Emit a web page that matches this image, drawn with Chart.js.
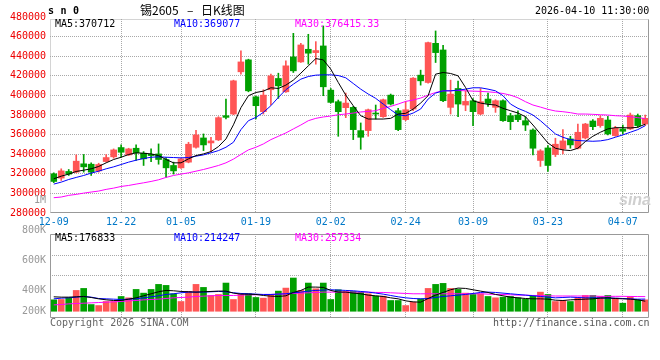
<!DOCTYPE html>
<html><head><meta charset="utf-8">
<script src="https://cdn.jsdelivr.net/npm/chart.js@4.4.1/dist/chart.umd.min.js"></script>
<style>
html,body{margin:0;padding:0;background:#fff}
body{width:660px;height:360px;overflow:hidden;position:relative}
canvas{position:absolute;left:0}
#c1{top:0}
#c2{top:190px}
.t{position:absolute;white-space:nowrap;font:10px "DejaVu Sans Mono",monospace;line-height:12px}
</style></head>
<body>
<canvas id="c1" width="660" height="229" style="width:660px;height:229px"></canvas>
<canvas id="c2" width="660" height="170" style="width:660px;height:170px"></canvas>
<div class="t" id="sym" style="left:48px;top:5px;font-weight:bold;letter-spacing:6.5px">sn0</div>
<div class="t" style="left:140px;top:3px;font:12px 'Noto Sans CJK SC';line-height:14px">锡2605</div>
<div class="t" style="left:187px;top:3px;font:12px 'Noto Sans CJK SC';line-height:14px">–</div>
<div class="t" style="left:201px;top:3px;font:12px 'Noto Sans CJK SC';line-height:14px">日K线图</div>
<div class="t" id="stamp" style="left:535px;top:5px;color:#000"></div>
<div class="t" id="pma5" style="left:55px;top:18px;color:#000"></div>
<div class="t" id="pma10" style="left:174px;top:18px;color:#0000ff"></div>
<div class="t" id="pma30" style="left:295px;top:18px;color:#ff00ff"></div>
<div class="t" id="vma5" style="left:55px;top:232px;color:#000"></div>
<div class="t" id="vma10" style="left:174px;top:232px;color:#0000ff"></div>
<div class="t" id="vma30" style="left:295px;top:232px;color:#ff00ff"></div>
<div class="t" style="left:50px;top:317px;color:#666">Copyright 2026 SINA.COM</div>
<div class="t" style="left:493px;top:317px;color:#555">http://finance.sina.com.cn</div>
<div class="t" style="left:619px;top:191px;font:italic bold 16px 'Liberation Sans';line-height:18px;color:#cfcfcf">sina</div>
<script>
// ---------- data ----------
const dates = ["12-09","12-10","12-11","12-12","12-15","12-16","12-17","12-18","12-19","12-22","12-23","12-24","12-25","12-26","12-29","12-30","12-31",
"01-05","01-06","01-07","01-08","01-09","01-12","01-13","01-14","01-15","01-16","01-19","01-20","01-21","01-22","01-23","01-26","01-27","01-28","01-29","01-30",
"02-02","02-03","02-04","02-05","02-06","02-09","02-10","02-11","02-12","02-13","02-24","02-25","02-26","02-27",
"03-02","03-03","03-04","03-05","03-06","03-09","03-10","03-11","03-12","03-13","03-16","03-17","03-18","03-19","03-20","03-23","03-24","03-25","03-26","03-27","03-30","03-31",
"04-01","04-02","04-03","04-07","04-08","04-09","04-10"];
const xTickLabels = ["12-09","12-22","01-05","01-19","02-02","02-24","03-09","03-23","04-07"];

const opens = [320000,315600,322400,321700,330200,329800,323000,332500,337300,346800,
339300,346100,341000,340000,340300,334600,328500,326100,331900,347100,
356600,351500,354600,379300,381000,424100,436300,398600,383400,405800,
417300,403700,439300,434200,447100,443700,450500,405400,393600,387500,
387800,364100,364100,381700,378300,400300,384400,375300,386100,420700,
413200,453200,446400,387800,407100,390200,394600,381000,396300,387800,
394600,379300,380000,374200,364700,333600,346400,339700,345400,355600,
346100,356600,373900,369200,374900,359000,365800,365800,379300,370800];
const closes = [312200,323000,319700,332900,327100,321700,329500,336600,344400,342000,
345400,341400,335300,338600,334600,326100,323000,335300,350200,359700,
349500,353600,377300,377600,414900,434200,404700,389500,400300,420000,
409800,430200,425100,451500,443100,445800,408800,392900,383400,392200,
365100,357300,385400,381000,395600,391200,365100,385400,417600,414900,
453900,443700,394600,401400,391200,393900,383400,393600,391900,394600,
374200,373200,375300,369800,346100,343400,328500,350200,353600,349500,
362400,370800,368100,376600,360700,366400,363400,380000,369200,376600];
const highs = [321000,325100,324400,339300,339700,331200,330800,339700,345400,349500,
346100,349500,342700,345400,350500,336600,331900,335900,352200,364400,
360700,357300,378300,396300,415600,445400,437000,399000,405800,421700,
422700,435300,463400,453200,462400,454900,470900,407100,395300,402400,
388800,371900,386100,390200,396300,401400,386800,393600,418300,425800,
454500,465800,451200,415600,414600,404700,396900,407100,402400,395600,
395600,381700,384400,378300,365800,344700,348800,356300,365100,358300,
370800,371500,375300,379300,378600,368500,369800,382000,381000,380000];
const lows = [311000,313200,318300,321000,321700,318300,321700,331900,335900,337000,
338600,333600,328500,332500,329800,316300,319700,325400,331200,346100,
343700,342700,353900,375900,380300,421700,403700,375900,381000,390200,
397000,403000,423400,433600,431900,431900,399700,392200,358300,377300,
354900,345000,358300,375900,377600,390200,364100,374200,384400,410500,
412500,433600,393600,381000,378300,384400,369200,380300,388800,382700,
373500,365100,373200,364100,339300,327500,322400,337600,340300,346100,
345400,355600,365100,367500,359700,358300,360700,365100,367500,369200];

const ma5 = [314900,317600,319700,322400,323700,325100,327500,331200,334600,336900,
339700,341400,341000,340300,338600,334600,331200,331200,335300,338600,
340300,342700,347800,355600,370000,387500,399700,403000,404400,407800,
407100,410500,415600,422700,430200,437600,436300,426800,413200,400300,
389500,379300,375900,375900,375900,376600,381000,381700,386100,392200,
399700,421700,423400,422400,420000,408100,394600,392200,390900,390200,
386800,384400,382000,378300,369800,360700,351500,346100,344400,343700,
346100,352900,358300,362400,365800,367100,367100,366800,367500,370700];
const ma10 = [309500,311500,314200,316300,318300,320700,322700,325100,327100,329500,
331900,333900,335600,336900,337300,336900,336600,336300,336600,338000,
339300,341400,343700,347100,352200,365100,374200,377600,382700,389500,
398000,405800,411500,416600,419300,420700,421000,421000,420300,418000,
412200,406400,401400,397000,391200,385400,380000,379300,382000,386100,
396300,402400,404700,404700,405400,406400,407800,407800,406400,404700,
399700,391200,386800,383700,380000,374200,367500,360700,357300,354900,
353900,353600,353200,353600,354900,357300,359700,362400,365100,369100];
const ma30 = [295600,296300,298000,299000,300300,301400,302400,304100,305400,307100,
308100,309500,310800,312200,313900,316300,318300,319700,321000,322700,
324400,326400,328500,331200,335000,339800,344400,347100,350500,354900,
358300,361700,365800,369800,374200,376600,378000,379000,380300,381000,
382000,383100,383700,384400,386800,388800,391200,393900,395300,397300,
400300,403000,404700,404700,405100,404700,404400,404100,403700,403000,
402000,400300,397600,393600,390200,388100,385800,384100,383400,382400,
381000,381000,380700,380300,380000,379300,379000,378300,377300,376400];

const volumes = [200600,206500,236000,365800,401200,118000,100300,171100,171100,259600,
236000,383500,318600,383500,472000,454300,306800,171100,348100,472000,
418900,277300,295000,495600,206500,295000,306800,241900,230100,295000,
354000,407100,584100,365800,495600,395300,495600,206500,377600,348100,
348100,336300,306800,265500,265500,188800,188800,100300,159300,218300,
401200,472000,489700,401200,383500,318600,295000,306800,259600,236000,
247800,259600,236000,212400,265500,336300,295000,171100,188800,171100,
236000,277300,277300,259600,277300,230100,141600,259600,200600,200600];
const volMa5 = [253700,247800,247800,253700,259600,241900,218300,200600,188800,188800,
212400,236000,271400,306800,342200,365800,359900,348100,342200,336300,
342200,348100,354000,354000,318600,300900,300900,295000,277300,265500,
259600,271400,330400,365800,424800,424800,418900,365800,336300,336300,
318600,306800,283200,271400,259600,236000,218300,182900,165200,159300,
224200,283200,330400,377600,407100,401200,377600,354000,330400,295000,
271400,247800,236000,224200,218300,218300,212400,194700,188800,200600,
206500,212400,218300,230100,236000,224200,218300,212400,200600,176800];
const volMa10 = [218300,230100,236000,247800,259600,247800,224200,218300,212400,206500,
212400,218300,236000,253700,271400,295000,306800,324500,336300,336300,
336300,342200,348100,342200,324500,312700,306800,300900,295000,295000,
300900,306800,324500,336300,354000,365800,371700,377600,371700,365800,
359900,348100,336300,318600,300900,277300,253700,236000,224200,218300,
224200,241900,259600,271400,283200,295000,312700,330400,336300,330400,
318600,306800,295000,283200,271400,259600,247800,236000,241900,247800,
241900,236000,236000,236000,230100,230100,224200,218300,212400,214200];
const volMa30 = [112100,118000,129800,135700,141600,147500,153400,159300,165200,171100,
182900,188800,200600,206500,212400,224200,236000,241900,247800,259600,
265500,271400,277300,277300,277300,283200,289100,289100,295000,295000,
300900,306800,312700,318600,324500,330400,336300,336300,336300,336300,
336300,336300,336300,330400,330400,324500,318600,312700,306800,306800,
306800,306800,306800,306800,306800,306800,306800,306800,300900,295000,
295000,289100,283200,283200,277300,277300,271400,268000,268000,268000,
268000,268000,268000,262000,262000,262000,262000,260000,258000,257300];

const priceTicks = [280000,300000,320000,340000,360000,380000,400000,420000,440000,460000,480000];
const volTickValues = [1956000,1416000,986000,885000,637000,359000,5300];
const volTickLabels = ["1M","800K","","600K","","400K","200K"];

const symbol = "sn0";
const stamp = "2026-04-10 11:30:00";
const priceMaText = ["MA5:370712","MA10:369077","MA30:376415.33"];
const volMaText = ["MA5:176833","MA10:214247","MA30:257334"];

// ---------- styling ----------
const UP = '#ff5555', DOWN = '#00a000', GRID = '#a8a8a8', FRAME = '#999999';
const clr = opens.map((o,i)=> closes[i] >= o ? UP : DOWN);
document.getElementById('stamp').textContent = stamp;
['pma5','pma10','pma30'].forEach((id,i)=>document.getElementById(id).textContent = priceMaText[i]);
['vma5','vma10','vma30'].forEach((id,i)=>document.getElementById(id).textContent = volMaText[i]);

Chart.defaults.font.family = "'DejaVu Sans Mono', monospace";
Chart.defaults.font.size = 10;
Chart.defaults.animation = false;

const xGrid = c => (c.index > 0 && xTickLabels.includes(dates[c.index])) ? GRID : 'rgba(0,0,0,0)';

function framePlugin(dottedLeftTop){
  return {id:'frame', afterDraw(chart){
    const a = chart.chartArea, ctx = chart.ctx;
    const L = Math.round(a.left)+0.5, R = Math.round(a.right)-0.5, T = Math.round(a.top)+0.5, B = Math.round(a.bottom)-0.5;
    ctx.save(); ctx.lineWidth = 1;
    ctx.strokeStyle = FRAME; ctx.setLineDash([]);
    ctx.beginPath(); ctx.moveTo(R,T); ctx.lineTo(R,B); ctx.lineTo(L,B); ctx.stroke();
    if (dottedLeftTop){ ctx.strokeStyle = GRID; ctx.setLineDash([1,1]); }
    ctx.beginPath(); ctx.moveTo(L,B); ctx.lineTo(L,T); ctx.lineTo(R,T); ctx.stroke();
    ctx.restore();
  }};
}

const lineDs = (data,color)=>({type:'line',data,borderColor:color,borderWidth:1,pointRadius:0,tension:0,fill:false,order:0});

new Chart(document.getElementById('c1'), {
  type:'bar',
  data:{labels:dates, datasets:[
    lineDs(ma5,'#000000'), lineDs(ma10,'#0000ff'), lineDs(ma30,'#ff00ff'),
    {data:opens.map((o,i)=>[o,closes[i]]), backgroundColor:clr, borderWidth:0, barThickness:6, minBarLength:1, grouped:false, order:1},
    {data:lows.map((l,i)=>[l,highs[i]]), backgroundColor:clr, borderWidth:0, barThickness:1, grouped:false, order:2}
  ]},
  options:{
    responsive:false, events:[],
    layout:{padding:{top:19,right:11,left:0,bottom:0}},
    plugins:{legend:{display:false}, tooltip:{enabled:false}},
    scales:{
      x:{offset:true, grid:{offset:false, color:xGrid, drawTicks:false}, border:{display:false, dash:[1,1]},
         ticks:{autoSkip:false, maxRotation:0, padding:3, color:'#0078c8',
           callback:(v,i)=> xTickLabels.includes(dates[i]) ? dates[i] : ''},
         afterFit:s=>{s.height=16;}},
      y:{min:280000, max:478000, beginAtZero:false,
         afterBuildTicks:s=>{s.ticks = priceTicks.map(v=>({value:v}));},
         grid:{drawTicks:false, color:c=>(c.tick && c.tick.value>280000 && c.tick.value<478000)?GRID:'rgba(0,0,0,0)'},
         border:{display:false, dash:[1,1]},
         ticks:{autoSkip:false, padding:4, color:'#ee0000', callback:v=>String(v)},
         afterFit:s=>{s.width=50;}}
    }
  },
  plugins:[framePlugin(true)]
});

new Chart(document.getElementById('c2'), {
  type:'bar',
  data:{labels:dates, datasets:[
    lineDs(volMa5,'#000000'), lineDs(volMa10,'#0000ff'), lineDs(volMa30,'#ff00ff'),
    {data:volumes, backgroundColor:clr, borderWidth:0, barThickness:6, order:1}
  ]},
  options:{
    responsive:false, events:[],
    layout:{padding:{top:44,right:11,left:0,bottom:42}},
    plugins:{legend:{display:false}, tooltip:{enabled:false}},
    scales:{
      x:{offset:true, grid:{offset:false, color:xGrid, drawTicks:false}, border:{display:false, dash:[1,1]},
         ticks:{display:false}, afterFit:s=>{s.height=0;}},
      y:{min:-118600, max:1357600, beginAtZero:false,
         afterBuildTicks:s=>{s.ticks = volTickValues.map(v=>({value:v}));},
         grid:{drawTicks:false, color:c=>(volTickLabels[c.index]==='')?GRID:'rgba(0,0,0,0)'},
         border:{display:false, dash:[1,1]},
         ticks:{autoSkip:false, padding:4, color:'#999999', callback:(v,i)=>volTickLabels[i]},
         afterFit:s=>{s.width=50;}}
    }
  },
  plugins:[framePlugin(false)]
});
</script>
</body></html>
